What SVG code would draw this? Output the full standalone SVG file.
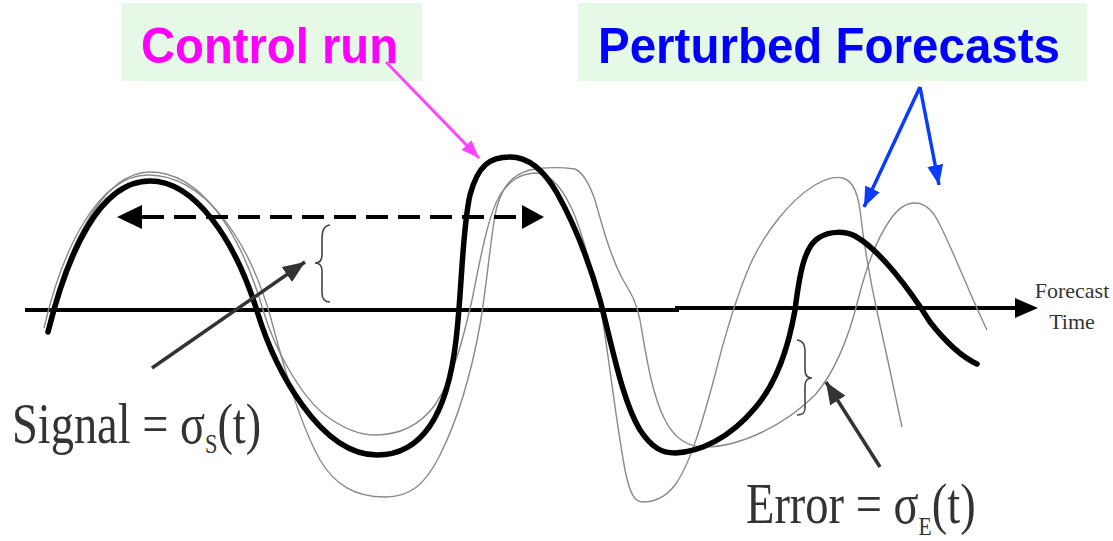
<svg xmlns="http://www.w3.org/2000/svg" width="1113" height="541" viewBox="0 0 1113 541">
<style>
.box{fill:#e6f9e6;stroke:none}
.title{font-family:"Liberation Sans",Arial,sans-serif;font-weight:bold;font-size:50px}
.serif{font-family:"Liberation Serif","Times New Roman",serif;fill:#333}
.thin{fill:none;stroke:#8a8a8a;stroke-width:1.4}
.thick{fill:none;stroke:#000;stroke-width:5.5;stroke-linecap:round;stroke-linejoin:round}
.brace{fill:none;stroke:#444;stroke-width:1.6}
</style>
<defs>
<marker id="hDark" markerUnits="userSpaceOnUse" markerWidth="26" markerHeight="20" refX="22" refY="9" orient="auto"><path d="M0,0 L22,9 L0,18 Z" fill="#333"/></marker>
<marker id="hMag" markerUnits="userSpaceOnUse" markerWidth="22" markerHeight="16" refX="18" refY="7" orient="auto"><path d="M0,0 L18,7 L0,14 Z" fill="#ff44ff"/></marker>
<marker id="hBlue" markerUnits="userSpaceOnUse" markerWidth="24" markerHeight="18" refX="20" refY="8" orient="auto"><path d="M0,0 L20,8 L0,16 Z" fill="#0a3cff"/></marker>
</defs>
<rect width="1113" height="541" fill="#fff"/>

<g id="label-control">
<rect class="box" x="121" y="3" width="301" height="78"/>
<text class="title" x="141" y="63" fill="#ff00ff" textLength="257" lengthAdjust="spacingAndGlyphs">Control run</text>
</g>
<g id="label-perturbed">
<rect class="box" x="578" y="3" width="509" height="78"/>
<text class="title" x="598" y="63" fill="#0000ff" textLength="462" lengthAdjust="spacingAndGlyphs">Perturbed Forecasts</text>
</g>

<g id="axis">
<path d="M25,310 H677 V308 H1020" fill="none" stroke="#000" stroke-width="4"/>
<path d="M1038,308 L1015,298 L1015,318 Z" fill="#000"/>
<text class="serif" x="1072" y="298" font-size="22" text-anchor="middle" fill="#111">Forecast</text>
<text class="serif" x="1072" y="329" font-size="22" text-anchor="middle" fill="#111">Time</text>
</g>

<g id="perturbed-curves">
<path class="thin" d="M46,333 C64,255 100,172 150,172 C200,172 240,230 263,310 C275,350 300,395 325,415 C345,430 360,435 375,435 C400,435 420,425 435,405 C455,375 465,330 472,300 C480,260 488,215 500,195 C510,180 520,174 535,173 C548,173 560,185 570,205 C580,225 592,270 600,305 C607,340 614,410 625,470 C630,495 635,502 643,502 C655,502 665,498 675,485 C690,465 703,420 715,375 C725,335 735,300 750,265 C765,232 790,200 815,185 C825,179 835,176 843,178 C852,181 857,190 860,210 C864,245 872,290 880,325 C888,360 895,395 902,427"/>
<path class="thin" d="M44,328 C62,250 98,175 148,175 C205,175 248,240 270,315 C282,360 298,420 320,460 C335,485 355,497 385,497 C410,497 425,485 440,455 C455,425 470,380 480,325 C486,290 490,245 495,215 C500,190 510,175 530,170 C545,167 560,167 575,169 C582,172 588,180 595,200 C602,225 610,255 622,278 C630,292 636,300 640,320 C646,355 652,395 665,420 C675,440 690,447 705,447 C740,447 785,425 815,395 C835,372 848,340 858,300 C866,268 876,240 890,220 C898,208 906,203 915,203 C925,203 933,210 940,225 C955,255 970,295 987,330"/>
</g>

<g id="control-curve">
<path class="thick" d="M48,332 C68,252 100,181 150,181 C195,181 235,240 257,311 C275,370 320,455 377,455 C425,455 448,410 456,340 C462,290 462,230 470,195 C478,165 490,157 510,157 C530,157 545,172 557,193 C575,225 590,265 600,300 C612,345 622,400 640,430 C652,448 662,453 675,453 C700,452 730,438 755,408 C775,385 788,350 795,310 C800,270 805,245 820,237 C830,231 845,231 855,236 C880,250 910,290 930,322 C948,345 962,357 977,364"/>
</g>

<g id="braces">
<path class="brace" d="M330,225 C323,226 322,232 322,240 L322,255 C322,260 320,263 315,263 C320,263 322,266 322,271 L322,293 C322,299 324,302 330,302"/>
<path class="brace" d="M797,340 C804,341 805,346 805,352 L805,370 C805,375 807,378 812,378 C807,378 805,381 805,386 L805,408 C805,413 803,415 797,415"/>
</g>

<g id="connectors">
<line x1="142" y1="217" x2="524" y2="217" stroke="#000" stroke-width="4" stroke-dasharray="22 10"/>
<path d="M117,217 L142,205 L142,229 Z" fill="#000"/>
<path d="M544,217 L522,205 L522,229 Z" fill="#000"/>
<line x1="152" y1="368" x2="305" y2="262" stroke="#333" stroke-width="3.5" marker-end="url(#hDark)"/>
<line x1="880" y1="467" x2="826" y2="382" stroke="#333" stroke-width="3.5" marker-end="url(#hDark)"/>
<line x1="386" y1="62" x2="479" y2="158" stroke="#ff44ff" stroke-width="3" marker-end="url(#hMag)"/>
<line x1="920" y1="87" x2="864" y2="207" stroke="#0a3cff" stroke-width="3.5" marker-end="url(#hBlue)"/>
<line x1="920" y1="87" x2="939" y2="185" stroke="#0a3cff" stroke-width="3.5" marker-end="url(#hBlue)"/>
</g>

<g id="label-signal">
<text class="serif" font-size="58" transform="translate(12,443) scale(0.8,1)">Signal = σ<tspan font-size="28" dy="10">S</tspan><tspan dy="-10">(t)</tspan></text>
</g>
<g id="label-error">
<text class="serif" font-size="56" transform="translate(746,523) scale(0.83,1)">Error = σ<tspan font-size="26" dy="12">E</tspan><tspan dy="-12">(t)</tspan></text>
</g>
</svg>
